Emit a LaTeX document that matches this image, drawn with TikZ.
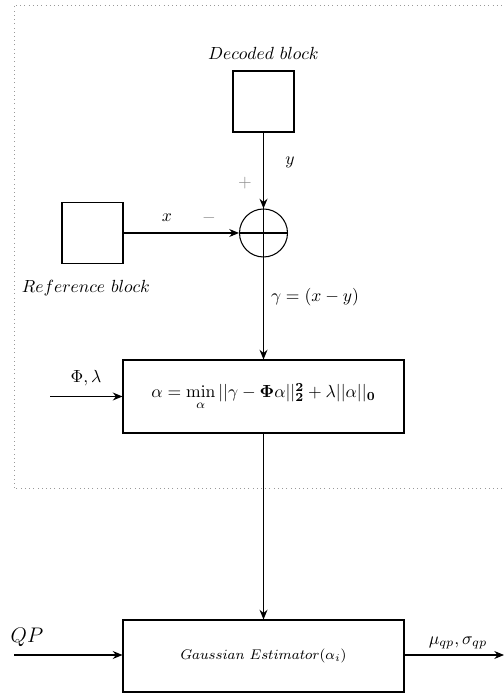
\documentclass[tikz,border=0pt]{standalone}
\usepackage{amsmath}
\usepackage{xcolor}
\usepackage{tikz}
\usetikzlibrary{calc,arrows.meta}

\begin{document}
\begin{tikzpicture}[>={Stealth[length=5.5pt,width=4.5pt]}, line width=0.6pt,
  blk/.style={draw, minimum width=1.22cm, minimum height=1.22cm, inner sep=0pt},
  wide/.style={draw, minimum width=5.62cm, minimum height=1.46cm, inner sep=0pt},
  sgn/.style={black!45}]
  \useasboundingbox (0,0) rectangle (10.08,13.86);
  % residual part
  \draw[dotted, black!40, line width=0.4pt] (0.28,4.1) rectangle (10.6,13.76);
  % blocks
  \node[blk] (dec) at (5.27,11.83) {};
  \node (declab) at (5.27,12.8) {$Decoded\ block$};
  \node[blk] (ref) at (1.85,9.2) {};
  \node (reflab) at (1.72,8.1) {$Reference\ block$};
  \node[draw, circle, minimum size=0.96cm, inner sep=0pt] (sum) at (5.27,9.2) {};
  \draw (sum.north) -- (sum.south);
  \draw (sum.west) -- (sum.east);
  % difference
  \draw[->] (dec.south) -- (sum.north);
  \draw[->] (ref.east) -- (sum.west);
  \node (ylab) at (5.8,10.62) {$y$};
  \node (xlab) at (3.34,9.5) {$x$};
  \node[sgn] (plus) at (4.9,10.2) {$+$};
  \node[sgn] (minus) at (4.18,9.5) {$-$};
  \node (glab) at (6.3,7.92) {$\gamma = (x-y)$};
  % sparse coding
  \node[wide] (sparse) at (5.27,5.93)
    {$\alpha = \min\limits_{\alpha} ||\gamma - \mathbf{\Phi}\alpha||_{\mathbf{2}}^{\mathbf{2}} + \lambda||\alpha||_{\mathbf{0}}$};
  \draw[->] (sum.south) -- (sparse.north);
  \coordinate (pin) at (1.0,5.93);
  \draw[->] (pin) -- (sparse.west);
  \node (plab) at (1.72,6.3) {$\Phi,\lambda$};
  % estimator
  \node[wide, minimum height=1.44cm] (gauss) at (5.27,0.74)
    {\footnotesize $Gaussian\ Estimator(\alpha_i)$};
  \draw[->] (sparse.south) -- (gauss.north);
  \coordinate (qin) at (0.28,0.76);
  \draw[->] (qin) -- (qin -| gauss.west);
  \node (qlab) at (0.54,1.12) {\large $QP$};
  \coordinate (qout) at (10.08,0.76);
  \draw[->] (qout -| gauss.east) -- (qout);
  \node (olab) at (9.16,1.0) {$\mu_{qp},\sigma_{qp}$};
\end{tikzpicture}
\end{document}
